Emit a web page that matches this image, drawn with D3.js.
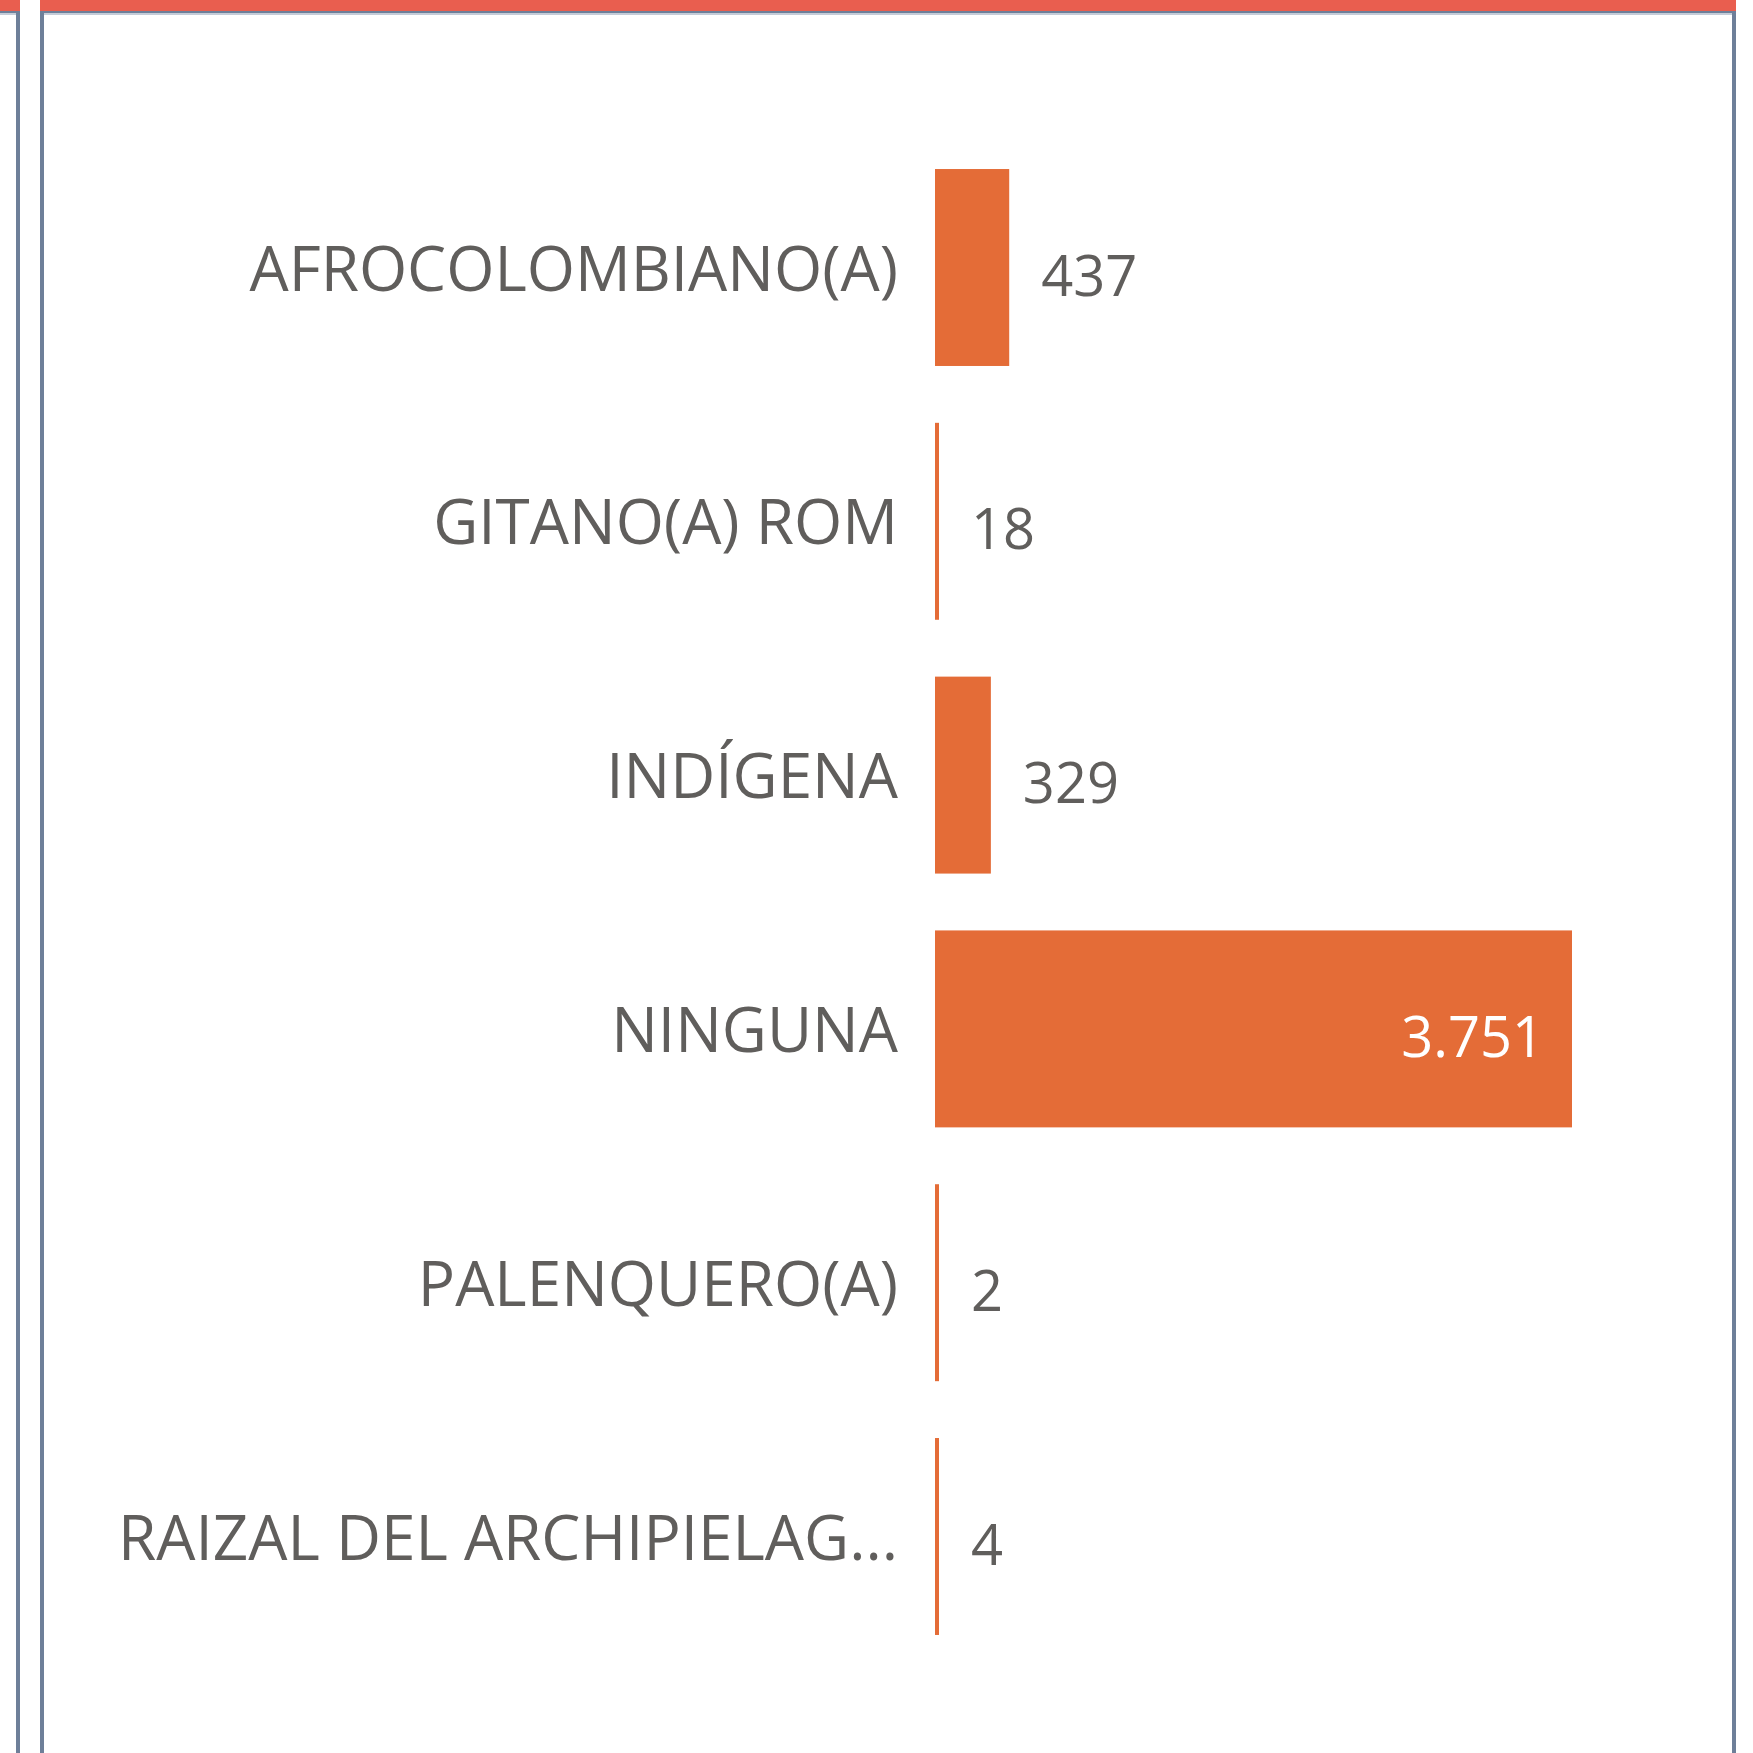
<!DOCTYPE html>
<html>
<head>
<meta charset="utf-8">
<script src="https://cdn.jsdelivr.net/npm/d3@7"></script>
<style>
  html, body { margin: 0; padding: 0; background: #ffffff; }
  svg { display: block; }
</style>
</head>
<body>
<svg id="chart" width="1753" height="1753"></svg>
<script>
const categories = ["AFROCOLOMBIANO(A)", "GITANO(A) ROM", "INDÍGENA", "NINGUNA", "PALENQUERO(A)", "RAIZAL DEL ARCHIPIELAG..."];
const values = [437, 18, 329, 3751, 2, 4];

const W = 1753, H = 1753;
const svg = d3.select("#chart");
const FONT = "'Open Sans', 'Noto Sans', sans-serif";
const TEXT = "#605E5C";
const BAR = "#E46C37";

// frame panels
function panel(x0, x1) {
  svg.append("rect").attr("x", x0).attr("y", 0).attr("width", x1 - x0).attr("height", 11).attr("fill", "#E95E4F");
  svg.append("rect").attr("x", x0).attr("y", 11).attr("width", x1 - x0).attr("height", 2).attr("fill", "#6E7F99");
  svg.append("rect").attr("x", x0).attr("y", 13).attr("width", x1 - x0).attr("height", 2).attr("fill", "#C5CCD8");
}
panel(-10, 20);
panel(40, 1736);
svg.append("rect").attr("x", 16).attr("y", 11).attr("width", 4).attr("height", H).attr("fill", "#6E7F99");
svg.append("rect").attr("x", 40).attr("y", 11).attr("width", 4).attr("height", H).attr("fill", "#6E7F99");
svg.append("rect").attr("x", 1732).attr("y", 11).attr("width", 4).attr("height", H).attr("fill", "#6E7F99");

const x = d3.scaleLinear().domain([0, d3.max(values)]).range([935, 1572]);
const y = d3.scaleBand().domain(categories).range([140.6, 140.6 + 6 * 253.8]).paddingInner(0.224).paddingOuter(0.112);

const loc = d3.formatLocale({decimal: ",", thousands: ".", grouping: [3], currency: ["$", ""]});
const fmt = loc.format(",d");

const data = categories.map((c, i) => ({c, v: values[i]}));
const minW = 4;
const barEnd = d => x(0) + Math.max(x(d.v) - x(0), minW);

svg.append("g").selectAll("rect").data(data).join("rect")
  .attr("x", x(0))
  .attr("y", d => y(d.c))
  .attr("width", d => Math.max(x(d.v) - x(0), minW))
  .attr("height", y.bandwidth())
  .attr("fill", BAR);

// category labels
svg.append("g").selectAll("text").data(data).join("text")
  .attr("x", 898)
  .attr("y", d => y(d.c) + y.bandwidth() / 2 + 23)
  .attr("text-anchor", "end")
  .attr("font-family", FONT)
  .attr("font-size", 62)
  .attr("fill", TEXT)
  .text(d => d.c);

// value labels
const vg = svg.append("g");
data.forEach(d => {
  const t = vg.append("text")
    .attr("font-family", FONT)
    .attr("font-size", 56)
    .attr("y", y(d.c) + y.bandwidth() / 2 + 28)
    .text(fmt(d.v));
  const w = t.node().getComputedTextLength();
  if (barEnd(d) + 32 + w > x.range()[1]) {
    t.attr("x", barEnd(d) - 28).attr("text-anchor", "end").attr("fill", "#ffffff");
  } else {
    t.attr("x", barEnd(d) + 32).attr("text-anchor", "start").attr("fill", TEXT);
  }
});
</script>
</body>
</html>
